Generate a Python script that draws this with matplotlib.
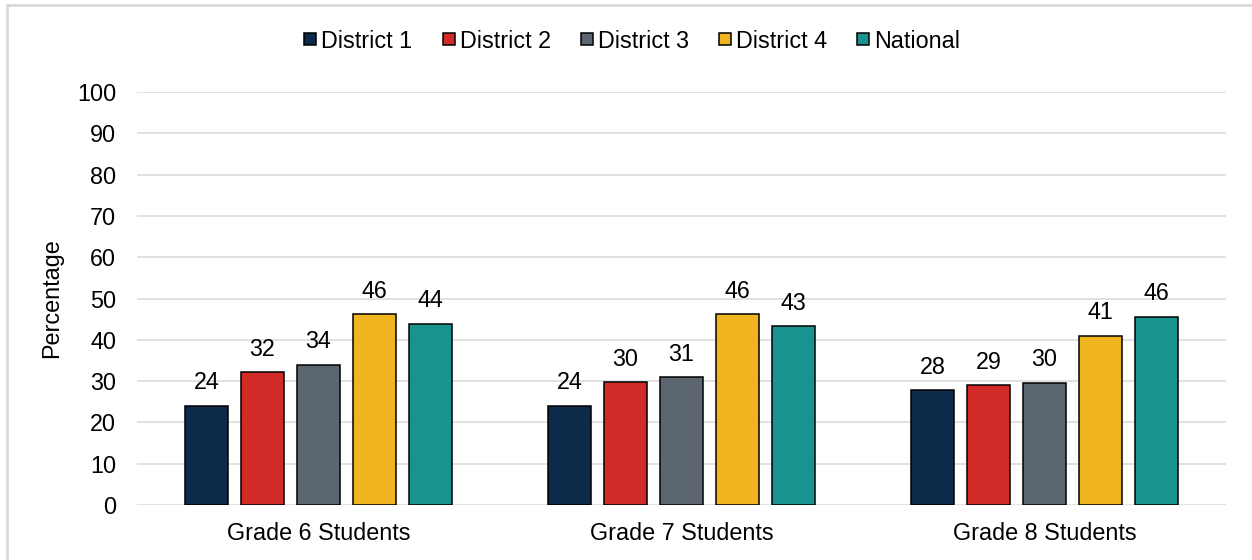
import matplotlib.pyplot as plt
from matplotlib.lines import Line2D
from matplotlib.patches import Rectangle
import numpy as np

plt.rcParams['font.family'] = ['Liberation Sans', 'DejaVu Sans']

# data
grades = ["Grade 6 Students", "Grade 7 Students", "Grade 8 Students"]
series = ["District 1", "District 2", "District 3", "District 4", "National"]
district1 = [24.0, 24.0, 27.8]
district2 = [32.1, 29.7, 29.0]
district3 = [34.0, 30.9, 29.6]
district4 = [46.2, 46.2, 41.0]
national = [43.8, 43.3, 45.6]
colors = ["#0d2a4a", "#d22b27", "#5c6670", "#f0b51e", "#199390"]

values = [district1, district2, district3, district4, national]
fs = 16.8

fig = plt.figure(figsize=(12.52, 5.6), dpi=100)
ax = fig.add_axes([137 / 1252, 1 - 505 / 560, 1089 / 1252, 413 / 560])

x = np.arange(len(grades))
pitch = 0.1543
width = 0.118
for i, (name, vals, col) in enumerate(zip(series, values, colors)):
    bars = ax.bar(x + (i - 2) * pitch, vals, width, color=col,
                  edgecolor="black", linewidth=1.1, zorder=3, label=name)
    for b, v in zip(bars, vals):
        ax.annotate(f"{v:.0f}", (b.get_x() + b.get_width() / 2, v),
                    xytext=(0, 12), textcoords="offset points",
                    ha="center", va="baseline", fontsize=fs)

ax.set_xlim(-0.5, 2.5)
ax.set_ylim(0, 100)
ax.set_yticks(range(0, 101, 10))
ax.set_xticks(x)
ax.set_xticklabels(grades)
ax.tick_params(axis="both", length=0, labelsize=fs)
ax.tick_params(axis="y", pad=15)
ax.tick_params(axis="x", pad=12.5)
ax.grid(axis="y", color="#d9d9d9", linewidth=1.1, zorder=0)
for s in ax.spines.values():
    s.set_visible(False)
ax.set_ylabel("Percentage", fontsize=fs)
ax.yaxis.set_label_coords(-0.068, 0.5)

handles = [Line2D([], [], marker="s", linestyle="none", markersize=8.5,
                  markerfacecolor=c, markeredgecolor="black", markeredgewidth=1.1)
           for c in colors]
fig.legend(handles, series, loc="center", bbox_to_anchor=(0.505, 1 - 41 / 560),
           ncol=5, frameon=False, fontsize=fs, handlelength=0.52,
           handletextpad=0.21, columnspacing=1.29)

# light frame around the chart (cut off on the right and bottom)
fig.patches.append(Rectangle((7 / 1252, -0.1), 1.2, 1.1 - 5 / 560,
                             transform=fig.transFigure, fill=False,
                             edgecolor="#d9d9d9", linewidth=2))

fig.savefig("out.png", dpi=100)
